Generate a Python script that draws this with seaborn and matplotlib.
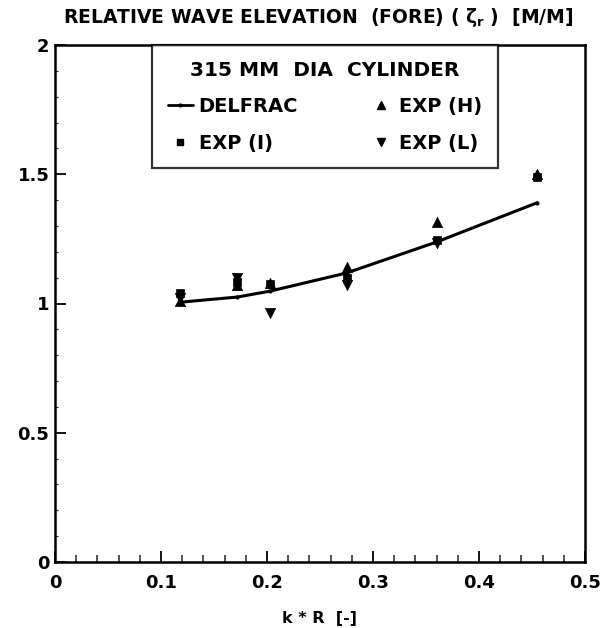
import numpy as np
import pandas as pd
import matplotlib
matplotlib.use("Agg")
import matplotlib.pyplot as plt
import seaborn as sns
from matplotlib.lines import Line2D
from matplotlib.ticker import MultipleLocator

sns.set_theme(style="white")
plt.rcParams['font.family'] = ['DejaVu Sans']
plt.rcParams['text.color'] = 'black'
plt.rcParams['axes.labelcolor'] = 'black'
plt.rcParams['mathtext.fontset'] = 'dejavusans'

# DELFRAC computation
delfrac_kr = [0.118, 0.172, 0.203, 0.275, 0.360, 0.455]
delfrac_val = [1.005, 1.025, 1.048, 1.118, 1.238, 1.390]

# Experiments
exp_kr = [0.118, 0.172, 0.203, 0.275, 0.360, 0.455]
exp_I = [1.04, 1.085, 1.075, 1.10, 1.245, 1.49]
exp_H = [1.01, 1.07, 1.08, 1.14, 1.315, 1.50]
exp_L = [1.02, 1.10, 0.963, 1.07, 1.235, np.nan]

xticks = [0, 0.1, 0.2, 0.3, 0.4, 0.5]
xticklabels = ["0", "0.1", "0.2", "0.3", "0.4", "0.5"]
yticks = [0, 0.5, 1, 1.5, 2]
yticklabels = ["0", "0.5", "1", "1.5", "2"]

df_line = pd.DataFrame({"kr": delfrac_kr, "val": delfrac_val})
df_exp = pd.concat([
    pd.DataFrame({"kr": exp_kr, "val": exp_I, "series": "EXP (I)"}),
    pd.DataFrame({"kr": exp_kr, "val": exp_H, "series": "EXP (H)"}),
    pd.DataFrame({"kr": exp_kr, "val": exp_L, "series": "EXP (L)"}),
]).dropna()

fig = plt.figure(figsize=(6.12, 6.28), dpi=100)
ax = fig.add_axes([55/612, 1-562/628, 530/612, 517/628])

sns.lineplot(data=df_line, x="kr", y="val", ax=ax, color="black", lw=2.2,
             marker="o", markersize=3, markeredgewidth=0, legend=False)
markers = {"EXP (I)": "s", "EXP (H)": "^", "EXP (L)": "v"}
sizes = {"EXP (I)": 30, "EXP (H)": 55, "EXP (L)": 55}
for name, mk in markers.items():
    sub = df_exp[df_exp.series == name]
    sns.scatterplot(data=sub, x="kr", y="val", ax=ax, marker=mk, color="black",
                    s=sizes[name], edgecolor="black", linewidth=0.5, legend=False, zorder=3)

ax.set_xlim(0, 0.5)
ax.set_ylim(0, 2)
ax.set_xticks(xticks)
ax.set_xticklabels(xticklabels)
ax.set_yticks(yticks)
ax.set_yticklabels(yticklabels)
ax.xaxis.set_minor_locator(MultipleLocator(0.02))
ax.yaxis.set_minor_locator(MultipleLocator(0.1))
ax.tick_params(axis="both", which="major", direction="in", length=8, width=1.3,
               labelsize=13, colors="black")
ax.tick_params(axis="x", which="minor", direction="in", length=5, width=1.1, bottom=True)
ax.tick_params(axis="y", which="minor", direction="in", length=2, width=0.8, left=True)
ax.tick_params(axis="x", which="major", pad=9, bottom=True)
ax.tick_params(axis="y", which="major", pad=4, left=True)
for lab in ax.get_xticklabels() + ax.get_yticklabels():
    lab.set_fontweight("heavy")
for sp in ax.spines.values():
    sp.set_color("black")
    sp.set_linewidth(1.8)
ax.set_xlabel("k * R  [-]", fontsize=11.5, fontweight="heavy", labelpad=13, color="black")
ax.set_ylabel("")

fig.text(0.52, 0.972, r"RELATIVE WAVE ELEVATION  (FORE) ( $\mathbf{\zeta_r}$ )  [M/M]",
         ha="center", va="center", fontsize=13.5, fontweight="heavy", color="black")

handles = [
    Line2D([], [], color="black", lw=2, marker="o", markersize=3, markeredgewidth=0),
    Line2D([], [], color="black", lw=0, marker="s", markersize=4),
    Line2D([], [], color="black", lw=0, marker="^", markersize=6),
    Line2D([], [], color="black", lw=0, marker="v", markersize=6),
]
labels = ["DELFRAC", "EXP (I)", "EXP (H)", "EXP (L)"]
leg = ax.legend(handles, labels, ncol=2, loc="upper left",
                bbox_to_anchor=(0.183, 1.0), title="315 MM  DIA  CYLINDER",
                frameon=True, fancybox=False, edgecolor="black",
                prop={"weight": "heavy", "size": 14},
                title_fontproperties={"weight": "heavy", "size": 14.5},
                handlelength=1.3, handletextpad=0.3, columnspacing=3.6,
                borderpad=0.8, labelspacing=0.9, borderaxespad=0)
leg.get_frame().set_linewidth(1.6)
leg.get_frame().set_edgecolor("black")
for t in leg.get_texts():
    t.set_color("black")
leg.get_title().set_color("black")

fig.savefig("out.png", dpi=100)
